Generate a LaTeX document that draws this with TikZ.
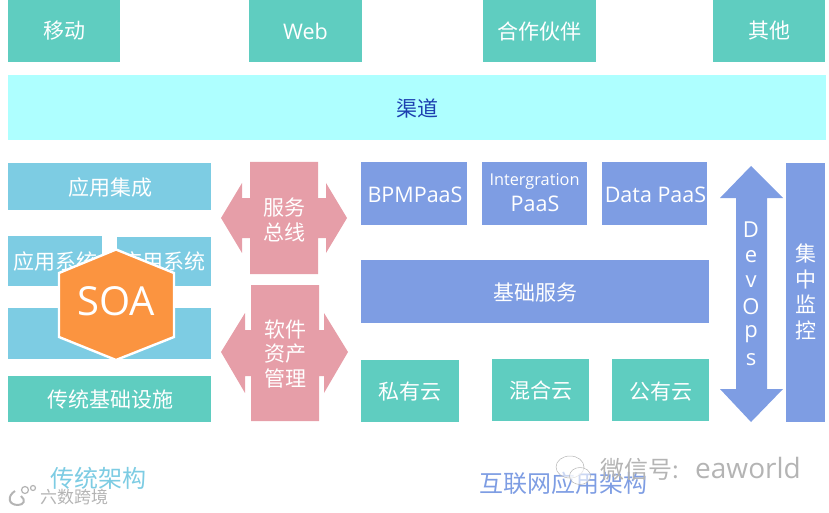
\documentclass[tikz,border=0pt]{standalone}
\usepackage{fontspec}
\setmainfont{Open Sans}
\newfontfamily\cjk{Noto Sans CJK SC}
\definecolor{teal1}{HTML}{5FCDC0}
\definecolor{cyan1}{HTML}{AEFFFF}
\definecolor{sky1}{HTML}{7DCCE3}
\definecolor{pink1}{HTML}{E69EA8}
\definecolor{blue1}{HTML}{7E9DE3}
\definecolor{orange1}{HTML}{FB9440}
\definecolor{navy1}{HTML}{1C3FB0}
\definecolor{wm1}{HTML}{B4B4B4}
\tikzset{
  lbl/.style={text=white,font=\cjk\fontsize{21}{24.5}\selectfont,align=center,inner sep=0pt},
  boxt/.style={fill=teal1},
  boxs/.style={fill=sky1},
  boxb/.style={fill=blue1},
  boxp/.style={fill=pink1},
  latin/.style={text=white,font=\fontsize{21.5}{24}\selectfont,align=center,inner sep=0pt},
  foot/.style={font=\cjk\fontsize{24}{28}\selectfont,inner sep=0pt},
  wm/.style={text=wm1,inner sep=0pt},
}
\newcommand{\bx}[6]{% name style x1 y1 x2 y2
  \path[#2] (#3,#4) rectangle (#5,#6);
  \coordinate (#1) at ({(#3+#5)/2},{(#4+#6)/2});}
\begin{document}
\begin{tikzpicture}[x=1pt,y=-1pt]
\useasboundingbox (0,0) rectangle (829,513);
% top row
\bx{mob}{boxt}{8}{0}{120}{62}
\bx{web}{boxt}{249}{0}{362}{62}
\bx{par}{boxt}{483}{0}{596}{62}
\bx{oth}{boxt}{713}{0}{825}{62}
\node[lbl] (tmob) at (64,31) {移动};
\node[latin] (tweb) at (305.5,31) {Web};
\node[lbl] (tpar) at (539.5,31) {合作伙伴};
\node[lbl] (toth) at (769,31) {其他};
\bx{chn}{fill=cyan1}{8}{75}{826}{140}
\node[lbl,text=navy1] (tchn) at (417,108.5) {渠道};
% left column
\bx{ai}{boxs}{8}{163}{211}{210}
\node[lbl] (tai) at (110,188) {应用集成};
\bx{as1}{boxs}{8}{236}{102}{286}
\bx{as2}{boxs}{117}{237}{211}{286}
\node[lbl] (tas1) at (55,262) {应用系统};
\node[lbl] (tas2) at (163,262) {应用系统};
\bx{mid}{boxs}{8}{308}{211}{359}
\bx{inf}{boxt}{8}{376}{211}{422}
\node[lbl] (tinf) at (110,400) {传统基础设施};
\path[fill=orange1,draw=white,line width=2.4pt,line join=miter]
  (116,249.5) -- (174,273) -- (174,337) -- (116,360) -- (59,337) -- (59,273) -- cycle;
\node[text=white,font=\fontsize{40}{44}\selectfont,inner sep=0pt] (soa) at (116,301) {SOA};
% pink shapes
\path[boxp] (221,218) -- (242,183) -- (242,198) -- (250,198) -- (250,162) -- (318,162) -- (318,198)
  -- (326,198) -- (326,183) -- (347,218) -- (326,253) -- (326,238) -- (318,238) -- (318,274)
  -- (250,274) -- (250,238) -- (242,238) -- (242,253) -- cycle;
\node[lbl] (bus) at (284,220) {服务\\总线};
\path[boxp] (221,352) -- (245,313) -- (245,330) -- (251,330) -- (251,285) -- (319,285) -- (319,330)
  -- (324,330) -- (324,313) -- (348,352) -- (324,393) -- (324,376) -- (319,376) -- (319,421)
  -- (251,421) -- (251,376) -- (245,376) -- (245,393) -- cycle;
\node[lbl] (sam) at (285,354) {软件\\资产\\管理};
% middle blue
\bx{bpm}{boxb}{361}{162}{467}{225}
\bx{int}{boxb}{482}{162}{587}{225}
\bx{dat}{boxb}{602}{162}{707}{225}
\node[latin] (tbpm) at (415,194.5) {BPMPaaS};
\node[text=white,font=\fontsize{16.3}{18}\selectfont,inner sep=0pt] (tint1) at (534.5,181) {Intergration};
\node[latin] (tint2) at (535,204) {PaaS};
\node[latin] (tdat) at (655.5,194.5) {Data PaaS};
\bx{bas}{boxb}{361}{260}{709}{323}
\node[lbl] (tbas) at (535,293) {基础服务};
\bx{prv}{boxt}{361}{360}{459}{422}
\bx{hyb}{boxt}{492}{359}{589}{421}
\bx{pub}{boxt}{612}{359}{709}{421}
\node[lbl] (tprv) at (410,392) {私有云};
\node[lbl] (thyb) at (540.5,391) {混合云};
\node[lbl] (tpub) at (660.5,392) {公有云};
% DevOps arrow
\path[boxb] (751,166) -- (783,198) -- (767,198) -- (767,389) -- (783,389) -- (751,422)
  -- (720,389) -- (736,389) -- (736,198) -- (720,198) -- cycle;
\foreach \n/\c/\y in {a/D/230,b/e/257,c/v/282,d/O/307,e/p/334,f/s/360}
  \node[latin,font=\fontsize{22}{24}\selectfont] (dev\n) at (751,\y) {\c};
\bx{mon}{boxb}{786}{163}{825}{422}
\node[lbl,font=\cjk\fontsize{21}{25.5}\selectfont] (tmon) at (805.5,292) {集\\中\\监\\控};
% footers
\node[foot,text=sky1] (f1) at (98,478) {传统架构};
\node[foot,text=blue1] (f2) at (563,483) {互联网应用架构};
% watermarks
\path[draw=wm1,fill=white,fill opacity=.6,line width=.5pt] (570,467) ellipse (14 and 11);
\path[draw=wm1,fill=white,fill opacity=.6,line width=.5pt] (580,476) ellipse (10.5 and 8.5);
\node[wm,font=\cjk\fontsize{24}{28}\selectfont,anchor=west] (w1) at (600,469) {微信号:};
\node[wm,font=\fontsize{28}{30}\selectfont,anchor=west] (w2) at (695,468) {eaworld};
\path[draw=wm1,line width=2pt] (15,491) .. controls (7,496) and (8,505) .. (18,505);
\path[draw=wm1,line width=2pt] (21,496) .. controls (26,500) and (24,505) .. (18,505);
\path[draw=wm1,line width=1.2pt] (25,490) circle (3.5) (33,488) circle (2.5);
\node[wm,font=\cjk\fontsize{17}{20}\selectfont,anchor=west] (w3) at (40,497) {六数跨境};
\end{tikzpicture}
\end{document}
